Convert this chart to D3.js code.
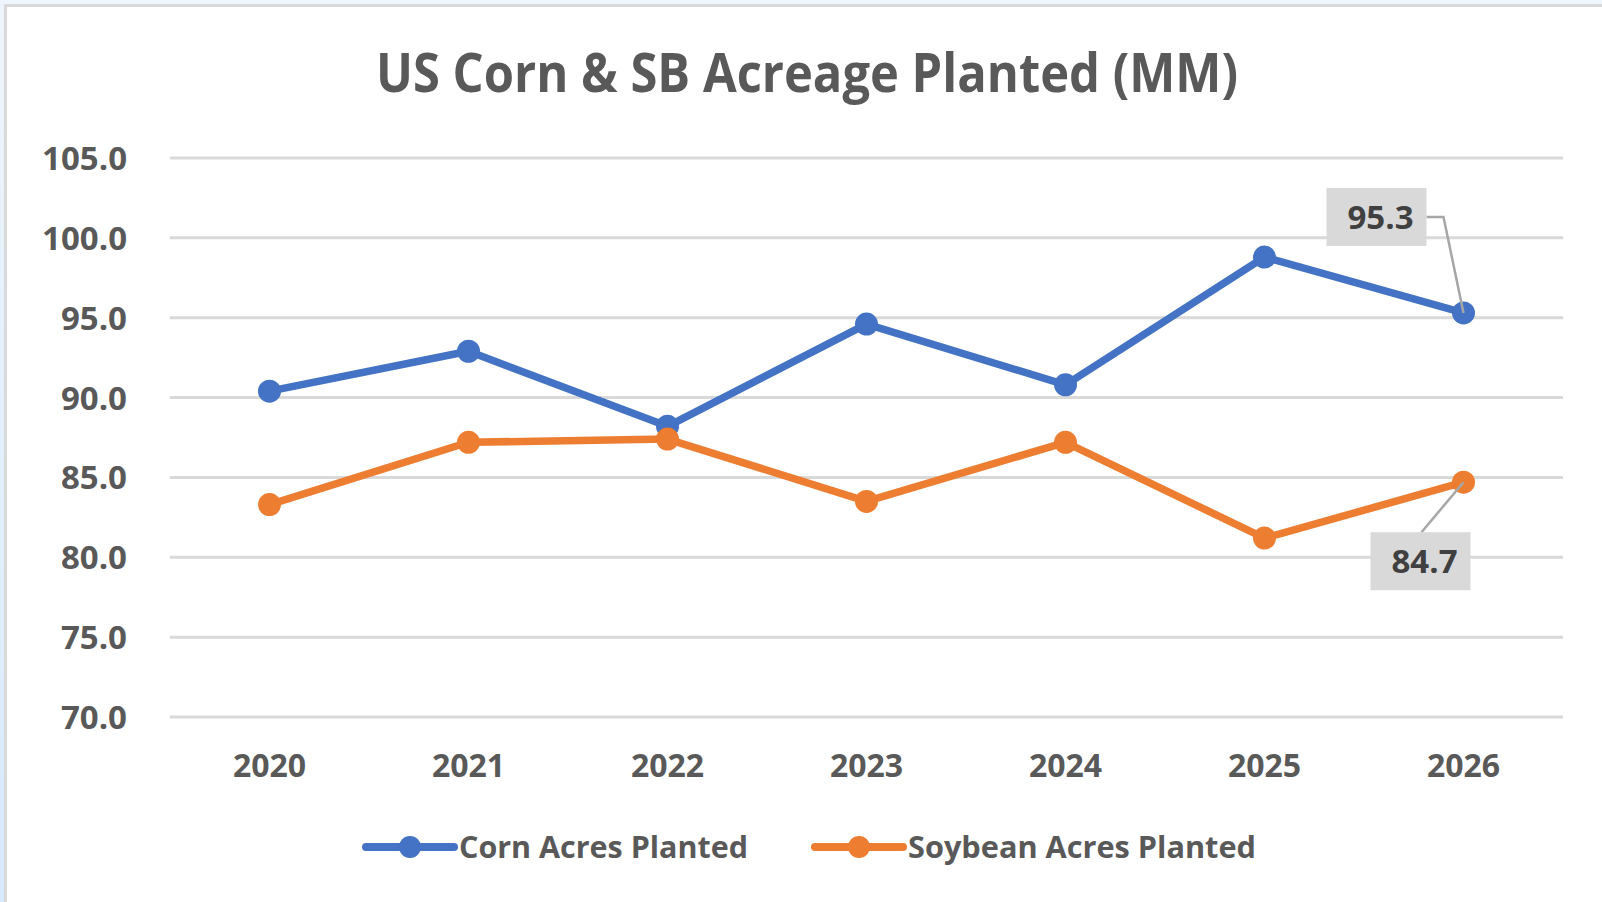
<html>
<head>
<meta charset="utf-8">
<style>
  body { margin: 0; background: #e4effa; }
  text { font-family: "Open Sans", sans-serif; }
</style>
</head>
<body>
<script src="https://cdn.jsdelivr.net/npm/d3@7"></script>
<svg id="chart" width="1602" height="902"></svg>
<script>
  // data
  var years = ["2020", "2021", "2022", "2023", "2024", "2025", "2026"];
  var corn = [90.4, 92.9, 88.2, 94.6, 90.8, 98.8, 95.3];
  var soy = [83.3, 87.2, 87.4, 83.5, 87.2, 81.2, 84.7];
  var yTicks = [70, 75, 80, 85, 90, 95, 100, 105];
  var seriesNames = ["Corn Acres Planted", "Soybean Acres Planted"];
  var seriesColors = ["#4472c4", "#ed7d31"];

  var svg = d3.select("#chart");

  // window background + chart frame
  var grad = svg.append("defs").append("linearGradient")
    .attr("id", "bg").attr("x1", 0).attr("y1", 0).attr("x2", 0).attr("y2", 1);
  grad.append("stop").attr("offset", 0).attr("stop-color", "#eef5fc");
  grad.append("stop").attr("offset", 1).attr("stop-color", "#d8e9fb");
  svg.append("rect").attr("width", 1602).attr("height", 902).attr("fill", "url(#bg)");
  svg.append("rect")
    .attr("x", 5.5).attr("y", 5.5).attr("width", 1700).attr("height", 1000)
    .attr("fill", "#fff").attr("stroke", "#d9d9d9").attr("stroke-width", 3);

  var x = d3.scaleBand().domain(years).range([170, 1563]);
  var y = d3.scaleLinear().domain([70, 105]).range([717, 158]);
  var cx = function(d, i) { return x(years[i]) + x.bandwidth() / 2; };

  // title (the original font is narrower, so squeeze it to the same width)
  svg.append("text")
    .attr("x", 376).attr("y", 92)
    .attr("textLength", 862).attr("lengthAdjust", "spacingAndGlyphs")
    .attr("font-size", 54).attr("font-weight", 700).attr("fill", "#595959")
    .text("US Corn & SB Acreage Planted (MM)");

  // gridlines
  svg.append("g").selectAll("line")
    .data(yTicks).join("line")
    .attr("x1", 170).attr("x2", 1563)
    .attr("y1", function(d) { return y(d); }).attr("y2", function(d) { return y(d); })
    .attr("stroke", "#d9d9d9").attr("stroke-width", 3);

  // y axis labels
  var yAxis = d3.axisLeft(y).tickValues(yTicks).tickFormat(d3.format(".1f")).tickSize(0).tickPadding(0);
  var gy = svg.append("g").attr("transform", "translate(127,0)").call(yAxis);
  gy.select(".domain").remove();
  gy.selectAll("text")
    .attr("font-family", "Open Sans").attr("font-size", 33).attr("font-weight", 700)
    .attr("fill", "#595959").attr("dy", "0.35em");

  // x axis labels
  var xAxis = d3.axisBottom(x).tickSize(0).tickPadding(0);
  var gx = svg.append("g").attr("transform", "translate(0,777)").call(xAxis);
  gx.select(".domain").remove();
  gx.selectAll("text")
    .attr("font-family", "Open Sans").attr("font-size", 32).attr("font-weight", 700)
    .attr("fill", "#595959").attr("dy", 0);

  // series
  var series = [corn, soy];
  var line = d3.line().x(cx).y(function(d) { return y(d); });
  series.forEach(function(vals, s) {
    svg.append("path")
      .attr("d", line(vals))
      .attr("fill", "none").attr("stroke", seriesColors[s])
      .attr("stroke-width", 7.5).attr("stroke-linejoin", "round");
    svg.append("g").selectAll("circle")
      .data(vals).join("circle")
      .attr("cx", cx).attr("cy", function(d) { return y(d); })
      .attr("r", 11.5).attr("fill", seriesColors[s]);
  });

  // data labels on last points
  var last = years.length - 1;
  var px = cx(null, last);
  var labels = [
    { v: corn[last], dx: -87, dy: -96, leader: "side" },
    { v: soy[last], dx: -43, dy: 79, leader: "top" }
  ];
  labels.forEach(function(l) {
    var py = y(l.v);
    var bx = px + l.dx, by = py + l.dy;
    var pts = l.leader === "side"
      ? [[bx + 50, by], [bx + 67, by], [px, py]]
      : [[bx + 1, by - 29], [px, py]];
    svg.append("path")
      .attr("d", d3.line()(pts))
      .attr("fill", "none").attr("stroke", "#a6a6a6").attr("stroke-width", 2.5);
    svg.append("rect")
      .attr("x", bx - 50).attr("y", by - 29).attr("width", 100).attr("height", 58)
      .attr("fill", "#d9d9d9");
    svg.append("text")
      .attr("x", bx + 4).attr("y", by).attr("dy", "0.36em")
      .attr("text-anchor", "middle")
      .attr("font-size", 33).attr("font-weight", 700).attr("fill", "#404040")
      .text(d3.format(".1f")(l.v));
  });

  // legend
  var legendX = [366, 815];
  var legendW = [289, 348];
  seriesNames.forEach(function(name, s) {
    var g = svg.append("g").attr("transform", "translate(" + legendX[s] + ",847)");
    g.append("line").attr("x1", 0).attr("x2", 88)
      .attr("stroke", seriesColors[s]).attr("stroke-width", 8).attr("stroke-linecap", "round");
    g.append("circle").attr("cx", 44).attr("r", 11).attr("fill", seriesColors[s]);
    g.append("text").attr("x", 93).attr("y", 11)
      .attr("textLength", legendW[s]).attr("lengthAdjust", "spacingAndGlyphs")
      .attr("font-size", 31).attr("font-weight", 700).attr("fill", "#595959")
      .text(name);
  });
</script>
</body>
</html>
